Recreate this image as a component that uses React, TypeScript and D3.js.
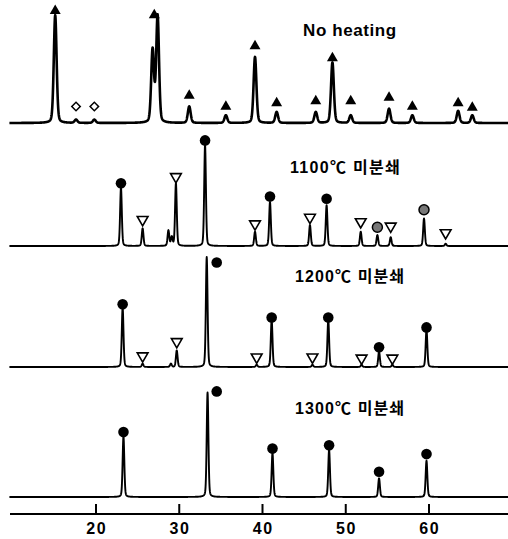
import * as d3 from 'd3';
import React from 'react';

// tick labels on the 2-theta axis
const tickValues = [20, 30, 40, 50, 60];
const tickLabels = ['20', '30', '40', '50', '60'];

const seriesNames = ['No heating', '1100℃ 미분쇄', '1200℃ 미분쇄', '1300℃ 미분쇄'];

// peaks: 2theta positions and intensities (arbitrary, 100 = full panel)
const noHeatPos = [15.1, 17.6, 19.8, 26.8, 27.4, 31.2, 35.6, 39.1, 41.7, 46.4, 48.4, 50.6, 55.2, 58.0, 63.5, 65.2];
const noHeatInt = [98, 3, 3, 66, 97, 15, 7, 60, 10, 10, 55, 7, 13, 7, 11, 7];

const c1100Pos = [23.0, 25.6, 28.7, 29.1, 29.6, 33.1, 39.1, 40.9, 45.7, 47.7, 51.8, 53.8, 55.4, 59.4, 62.0];
const c1100Int = [53, 16, 14, 8, 57, 92, 13, 40, 19, 37, 13, 10, 8, 25, 2];

const c1200Pos = [23.2, 25.6, 29.0, 29.7, 33.3, 39.3, 41.1, 46.0, 47.9, 51.9, 54.0, 55.6, 59.7];
const c1200Int = [54, 3, 3, 15, 100, 2, 43, 2, 43, 2, 14, 2, 34];

const c1300Pos = [23.3, 33.4, 41.2, 48.0, 54.0, 59.7];
const c1300Int = [55, 95, 40, 43, 17, 33];

// phase markers: position, height level, kind
const noHeatMarkPos = [15.1, 27.0, 31.2, 35.6, 39.1, 41.7, 46.4, 48.4, 50.6, 55.2, 58.0, 63.5, 65.2, 17.6, 19.8];
const noHeatMarkLvl = [102, 98, 25, 15, 70, 18, 20, 59, 20, 23, 15, 18, 14, 15, 15];
const noHeatMarkKind = ['tri', 'tri', 'tri', 'tri', 'tri', 'tri', 'tri', 'tri', 'tri', 'tri', 'tri', 'tri', 'tri', 'dia', 'dia'];

const c1100MarkPos = [23.0, 33.1, 40.9, 47.7, 53.8, 59.4, 25.6, 29.6, 39.1, 45.7, 51.8, 55.4, 62.0];
const c1100MarkLvl = [57, 96, 45, 43, 17, 33, 24, 63, 20, 26, 22, 18, 12];
const c1100MarkKind = ['dot', 'dot', 'dot', 'dot', 'gray', 'gray', 'inv', 'inv', 'inv', 'inv', 'inv', 'inv', 'inv'];

const c1200MarkPos = [23.2, 34.5, 41.1, 47.9, 54.0, 59.7, 25.6, 29.7, 39.3, 46.0, 51.9, 55.6];
const c1200MarkLvl = [57, 95, 45, 45, 18, 36, 10, 23, 9, 9, 8, 8];
const c1200MarkKind = ['dot', 'dot', 'dot', 'dot', 'dot', 'dot', 'inv', 'inv', 'inv', 'inv', 'inv', 'inv'];

const c1300MarkPos = [23.3, 34.5, 41.2, 48.0, 54.0, 59.7];
const c1300MarkLvl = [59, 96, 44, 47, 23, 39];
const c1300MarkKind = ['dot', 'dot', 'dot', 'dot', 'dot', 'dot'];

function profile(pos: number[], inten: number[], hw: number, grid: number[]) {
  return grid.map((x) => {
    let s = 0;
    pos.forEach((c, i) => {
      const d = (x - c) / hw;
      s += inten[i] * (0.75 * Math.exp(-Math.LN2 * d * d) + 0.25 / (1 + d * d));
    });
    return [x, s] as [number, number];
  });
}

function App() {
  const svgWidth = 508;
  const svgHeight = 539;
  const axisY = 514;

  const xScale = d3.scaleLinear().domain([20, 60]).range([96, 429]);
  const hScale = d3.scaleLinear().domain([0, 100]).range([0, 110]);
  const grid = d3.range(9.6, 70, 0.02);

  const panels = [
    { pos: noHeatPos, int: noHeatInt, hw: 0.2, base: 123, width: 2.6, mp: noHeatMarkPos, ml: noHeatMarkLvl, mk: noHeatMarkKind, lx: 303, ly: 36, fs: 17, ls: 0.6 },
    { pos: c1100Pos, int: c1100Int, hw: 0.12, base: 246, width: 1.9, mp: c1100MarkPos, ml: c1100MarkLvl, mk: c1100MarkKind, lx: 290, ly: 173, fs: 16, ls: 1.3 },
    { pos: c1200Pos, int: c1200Int, hw: 0.12, base: 367, width: 1.9, mp: c1200MarkPos, ml: c1200MarkLvl, mk: c1200MarkKind, lx: 295, ly: 282, fs: 16, ls: 1.1 },
    { pos: c1300Pos, int: c1300Int, hw: 0.12, base: 497, width: 1.9, mp: c1300MarkPos, ml: c1300MarkLvl, mk: c1300MarkKind, lx: 295, ly: 414, fs: 16, ls: 1.1 },
  ];

  const triPath = d3.symbol().type(d3.symbolTriangle).size(52)() || '';
  const invPath = d3.symbol().type(d3.symbolTriangle).size(50)() || '';
  const diaPath = d3.symbol().type(d3.symbolSquare).size(36)() || '';

  const fontFamily = '"Liberation Sans", "Noto Sans CJK KR", Arial, sans-serif';

  return (
    <svg width={svgWidth} height={svgHeight} style={{ position: 'absolute', left: 0, top: 0, background: '#fff' }}>
      {panels.map((p, i) => {
        const line = d3
          .line<[number, number]>()
          .x((d) => xScale(d[0]))
          .y((d) => p.base - hScale(d[1]));
        return (
          <g key={i}>
            <path d={line(profile(p.pos, p.int, p.hw, grid)) || ''} fill="none" stroke="#000" strokeWidth={p.width} strokeLinejoin="round" />
            {p.mp.map((m, j) => {
              const x = xScale(m);
              const y = p.base - hScale(p.ml[j]);
              const kind = p.mk[j];
              if (kind === 'tri') return <path key={j} d={triPath} transform={`translate(${x},${y})`} fill="#000" />;
              if (kind === 'inv')
                return <path key={j} d={invPath} transform={`translate(${x},${y}) rotate(180)`} fill="#fff" stroke="#000" strokeWidth={1.6} />;
              if (kind === 'dia')
                return <path key={j} d={diaPath} transform={`translate(${x},${y}) rotate(45)`} fill="#fff" stroke="#000" strokeWidth={1.5} />;
              if (kind === 'gray') return <circle key={j} cx={x} cy={y} r={5} fill="#777" stroke="#000" strokeWidth={1.5} />;
              return <circle key={j} cx={x} cy={y} r={5.3} fill="#000" />;
            })}
            <text x={p.lx} y={p.ly} fontSize={p.fs} fontWeight="bold" letterSpacing={p.ls} fontFamily={fontFamily} fill="#000">
              {seriesNames[i]}
            </text>
          </g>
        );
      })}
      <line x1={10} x2={508} y1={axisY} y2={axisY} stroke="#000" strokeWidth={2} />
      {tickValues.map((t, i) => (
        <g key={t} transform={`translate(${xScale(t)},${axisY})`}>
          <line y1={0} y2={-10} stroke="#000" strokeWidth={2} />
          <text y={20} textAnchor="middle" fontSize={16} fontWeight="bold" letterSpacing={1.5} dx={0.75} fontFamily={fontFamily} fill="#000">
            {tickLabels[i]}
          </text>
        </g>
      ))}
    </svg>
  );
}

export default App;
